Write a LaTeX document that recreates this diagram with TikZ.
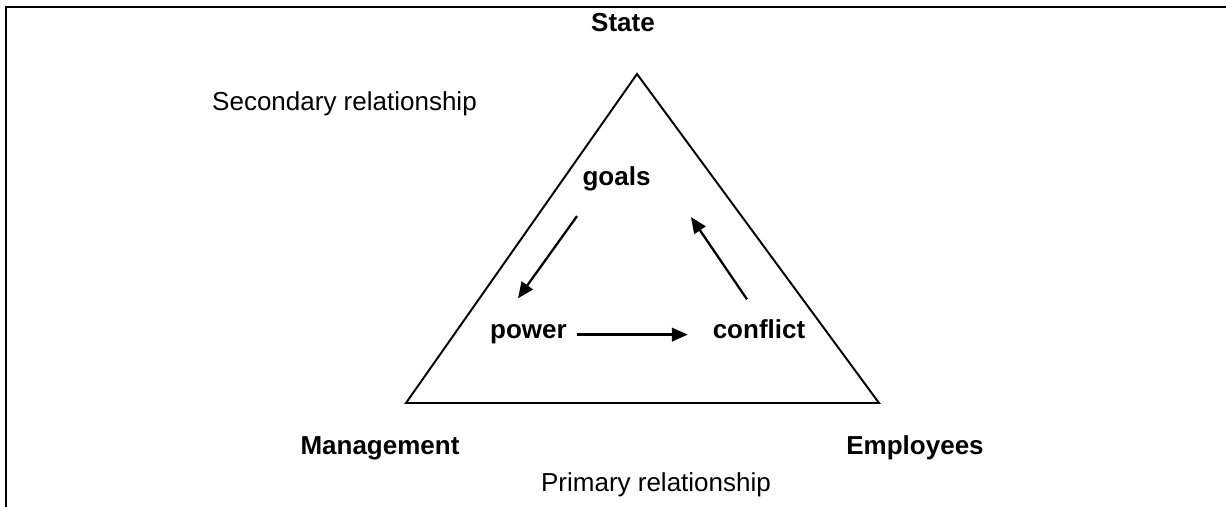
\documentclass[tikz,border=0pt]{standalone}
\usepackage{fontspec}
\setmainfont{Liberation Sans}
\usepackage{tikz}
\usetikzlibrary{arrows.meta}

\begin{document}
\begin{tikzpicture}[font=\fontsize{14.8}{18}\selectfont, line width=1.1pt,
  lbl/.style={inner sep=0pt, anchor=base, text height=0.75em, text depth=0.25em},
  key/.style={lbl, font=\fontsize{14.8}{18}\selectfont\bfseries},
  arr/.style={-{Triangle[length=0.32cm,width=0.27cm]}, line width=1.3pt}]
\useasboundingbox (0,0) rectangle (24.52,10.14);
% frame (top and left edge only)
\draw (0.12,0) -- (0.12,10.0) -- (24.52,10.0);
% triangle corners
\coordinate (apex) at (12.74,8.66);
\coordinate (mgmt) at (8.12,2.08);
\coordinate (empl) at (17.58,2.08);
\draw[line join=miter] (apex) -- (mgmt) -- (empl) -- cycle;
% parties
\node[key] (state) at (12.46,9.50) {State};
\node[key] (management) at (7.60,1.04) {Management};
\node[key] (employees) at (18.30,1.04) {Employees};
\node[lbl] (secondary) at (6.89,7.92) {Secondary relationship};
\node[lbl] (primary) at (13.12,0.30) {Primary relationship};
% inner cycle
\node[key] (goals) at (12.33,6.42) {goals};
\node[key] (power) at (10.57,3.36) {power};
\node[key] (conflict) at (15.18,3.36) {conflict};
\draw[arr] ([shift={(-0.79,-0.495)}]goals.south) -- ([shift={(-0.21,0.53)}]power.north);
\draw[arr, shorten <=0.18cm, shorten >=0.48cm] (power.east) -- (conflict.west);
\draw[arr] ([shift={(-0.24,0.51)}]conflict.north) -- ([shift={(1.49,-0.515)}]goals.south);
\end{tikzpicture}
\end{document}
